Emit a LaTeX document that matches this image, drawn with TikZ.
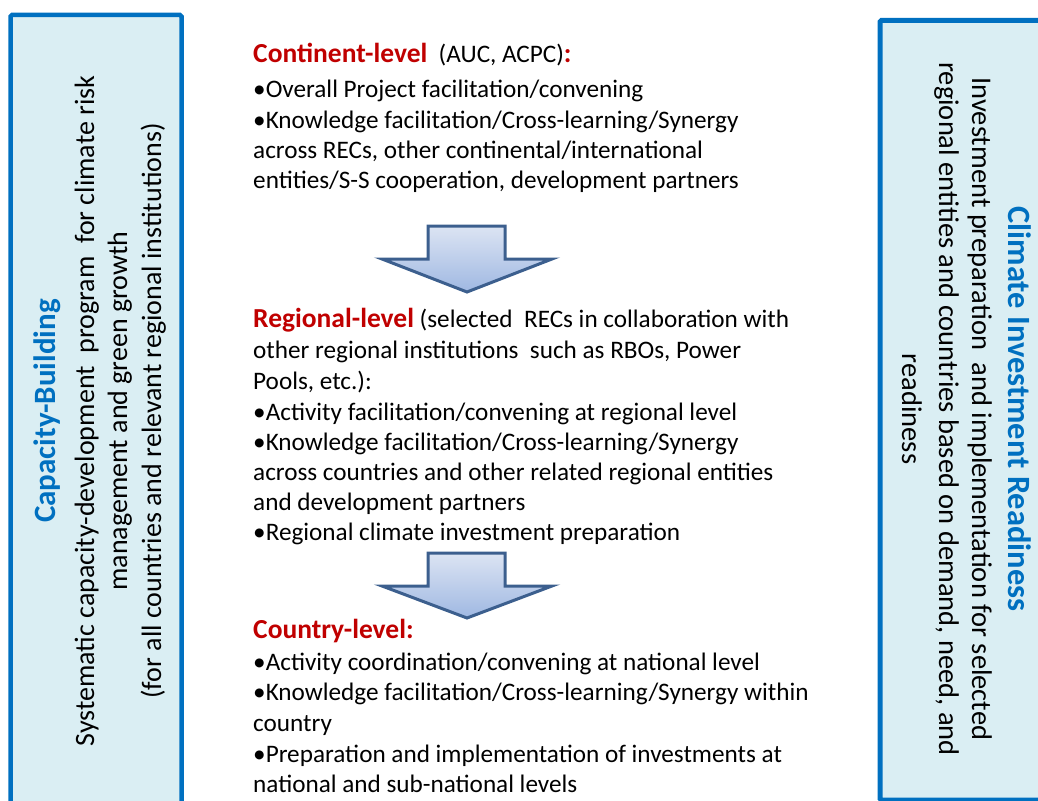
\documentclass[tikz,border=0pt]{standalone}
\usepackage{fontspec}
\setmainfont{Carlito}
\definecolor{headred}{HTML}{C00000}
\definecolor{sideblue}{HTML}{0070C0}
\definecolor{sidefill}{HTML}{DAEEF3}
\definecolor{arrowedge}{HTML}{3C5F8E}
\definecolor{arrowtop}{HTML}{DCE4F3}
\definecolor{arrowbot}{HTML}{9FB8E2}
\newcommand{\hd}[1]{\textcolor{headred}{\fontsize{27.5}{30}\selectfont\bfseries #1}}
\begin{document}
\begin{tikzpicture}[x=1pt,y=-1pt,
  sidebox/.style={draw=sideblue,fill=sidefill,line width=4.5pt,rounded corners=1.5pt},
  body/.style={anchor=base west,inner sep=0pt,font=\fontsize{25.2}{30}\selectfont},
  sidetitle/.style={inner sep=0pt,anchor=base,text=sideblue,font=\fontsize{31}{36}\selectfont\bfseries},
  sidetext/.style={inner sep=0pt,anchor=base,font=\fontsize{28}{33}\selectfont},
  downarrow/.style={draw=arrowedge,line width=3pt,line join=miter,top color=arrowtop,bottom color=arrowbot},
]
\useasboundingbox (0,0) rectangle (1038,800);
\clip (0,0) rectangle (1038,800);

% side panels
\draw[sidebox] (10.5,15) rectangle (181.5,840);
\draw[sidebox,line width=5pt] (880,20.5) rectangle (1070,800);

% left panel text, reading upwards
\node[sidetitle,rotate=90] (cbtitle) at (55,411) {Capacity-Building};
\node[sidetext,rotate=90] (cb1) at (94,411) {Systematic capacity-development~ program~ for climate risk};
\node[sidetext,rotate=90] (cb2) at (127,411) {management and green growth};
\node[sidetext,rotate=90] (cb3) at (161,411) {(for all countries and relevant regional institutions)};

% right panel text, reading downwards
\node[sidetitle,rotate=-90,font=\fontsize{32.5}{36}\selectfont\bfseries] (cirtitle) at (1008,409) {Climate Investment Readiness};
\node[sidetext,rotate=-90,font=\fontsize{28.5}{33}\selectfont] (cir1) at (972,409) {Investment preparation~ and implementation for selected};
\node[sidetext,rotate=-90,font=\fontsize{28.5}{33}\selectfont] (cir2) at (939,409) {regional entities and countries based on demand, need, and};
\node[sidetext,rotate=-90,font=\fontsize{28.5}{33}\selectfont] (cir3) at (902,409) {readiness};

% continent level
\node[body] (c0) at (253,63) {\hd{Continent-level}~ (AUC, ACPC)\hd{:}};
\node[body] (c1) at (253,97) {•Overall Project facilitation/convening};
\node[body] (c2) at (253,128) {•Knowledge facilitation/Cross-learning/Synergy};
\node[body] (c3) at (253,158) {across RECs, other continental/international};
\node[body] (c4) at (253,188) {entities/S-S cooperation, development partners};

% arrow to regional level
\draw[downarrow] (428,226) -- (505,226) -- (505,259) -- (552,259) -- (467,292)
  -- (382,259) -- (428,259) -- cycle;

% regional level
\node[body] (r0) at (253,327) {\hd{Regional-level} (selected~ RECs in collaboration with};
\node[body] (r1) at (253,358) {other regional institutions~ such as RBOs, Power};
\node[body] (r2) at (253,389) {Pools, etc.):};
\node[body] (r3) at (253,420) {•Activity facilitation/convening at regional level};
\node[body] (r4) at (253,450) {•Knowledge facilitation/Cross-learning/Synergy};
\node[body] (r5) at (253,480) {across countries and other related regional entities};
\node[body] (r6) at (253,510) {and development partners};
\node[body] (r7) at (253,540) {•Regional climate investment preparation};

% arrow to country level
\draw[downarrow] (428,553) -- (505,553) -- (505,586) -- (552,586) -- (467,618)
  -- (382,586) -- (428,586) -- cycle;

% country level
\node[body] (k0) at (253,638) {\hd{Country-level:}};
\node[body] (k1) at (253,670) {•Activity coordination/convening at national level};
\node[body] (k2) at (253,700) {•Knowledge facilitation/Cross-learning/Synergy within};
\node[body] (k3) at (253,731) {country};
\node[body] (k4) at (253,762) {•Preparation and implementation of investments at};
\node[body] (k5) at (253,792) {national and sub-national levels};
\end{tikzpicture}
\end{document}
